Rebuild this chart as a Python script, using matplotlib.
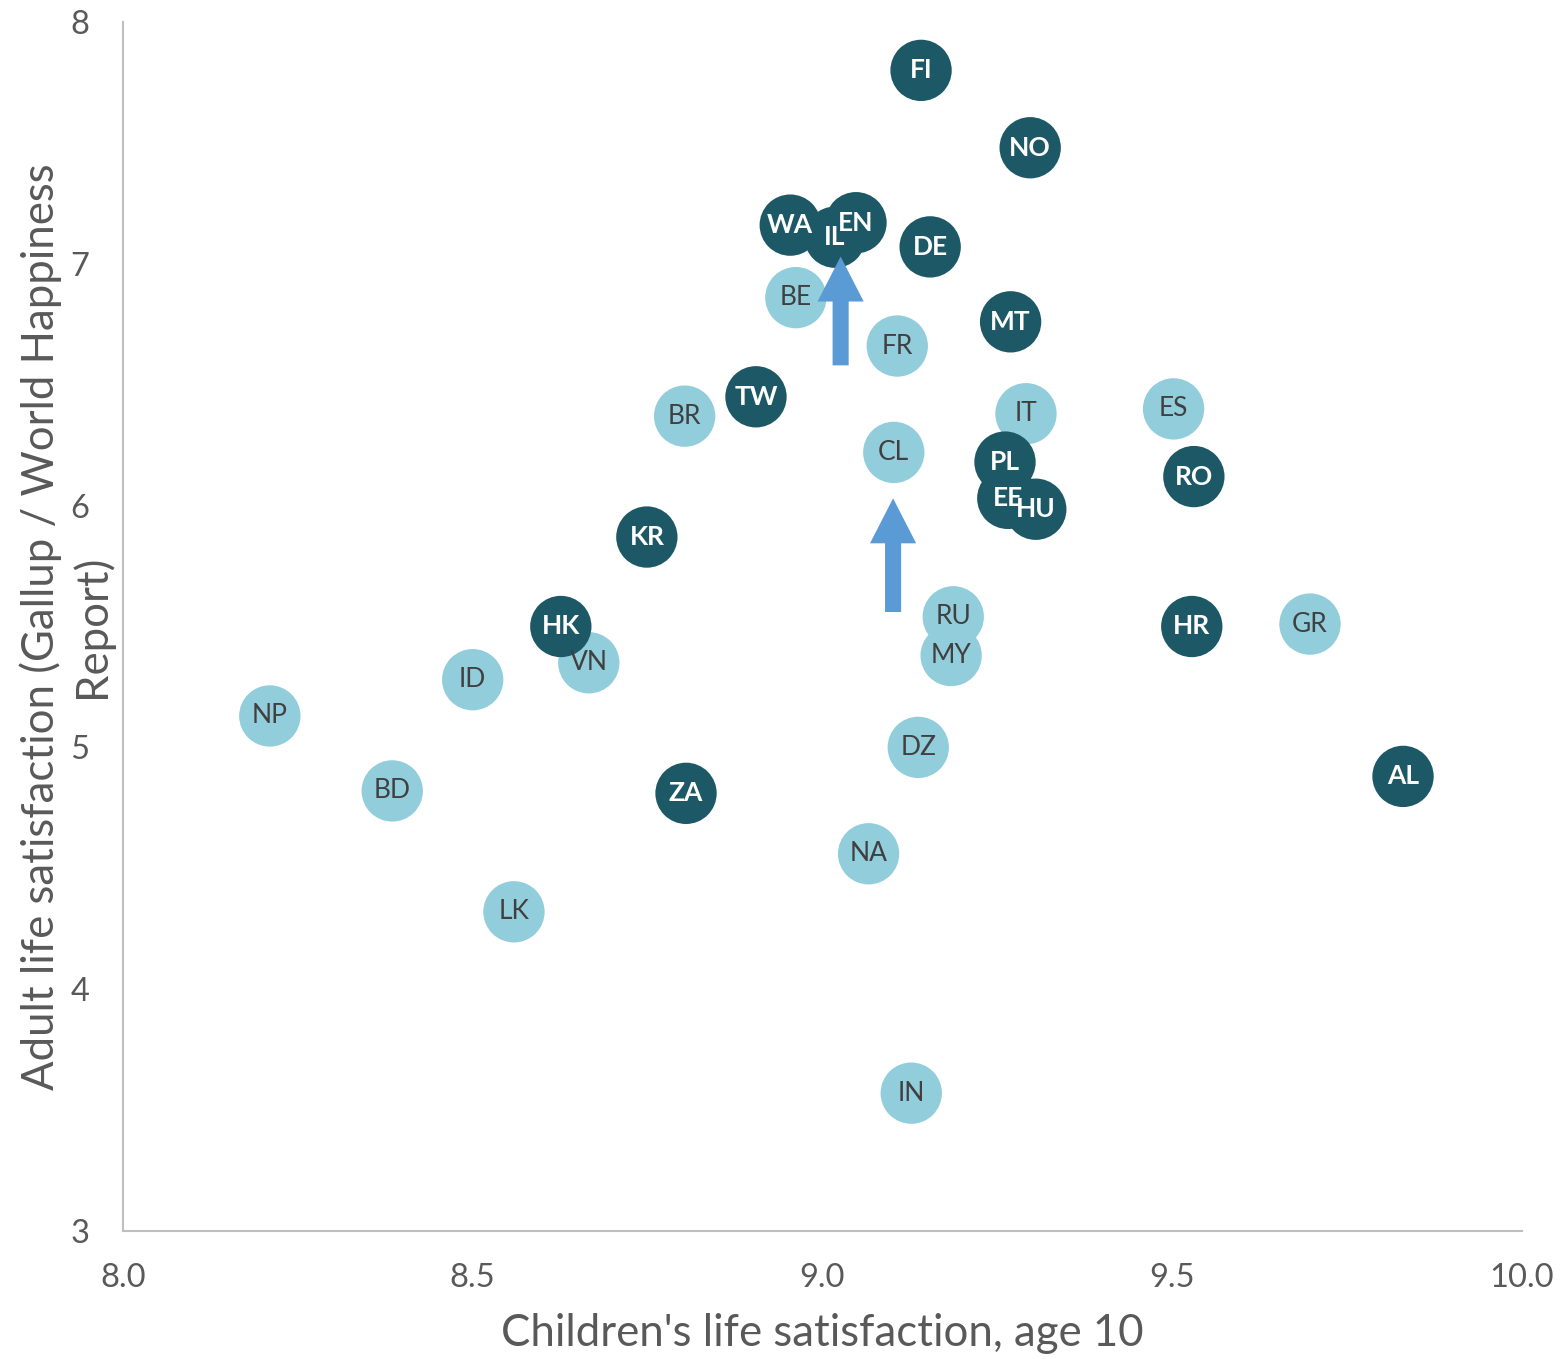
import matplotlib.pyplot as plt

# country codes, children's life satisfaction (age 10), adult life satisfaction
dark_codes = ['FI', 'NO', 'WA', 'IL', 'EN', 'DE', 'MT', 'TW', 'PL', 'RO',
              'EE', 'HU', 'KR', 'HK', 'HR', 'AL', 'ZA']
dark_x = [9.141, 9.297, 8.954, 9.018, 9.048, 9.154, 9.269, 8.905, 9.261, 9.531,
          9.265, 9.305, 8.749, 8.626, 9.528, 9.830, 8.805]
dark_y = [7.80, 7.48, 7.16, 7.11, 7.17, 7.07, 6.76, 6.45, 6.18, 6.12,
          6.03, 5.985, 5.87, 5.50, 5.50, 4.88, 4.81]

light_codes = ['BE', 'FR', 'BR', 'IT', 'ES', 'CL', 'RU', 'GR', 'VN', 'MY',
               'ID', 'NP', 'DZ', 'BD', 'NA', 'LK', 'IN']
light_x = [8.962, 9.107, 8.803, 9.291, 9.502, 9.102, 9.187, 9.697, 8.666, 9.184,
           8.500, 8.210, 9.137, 8.385, 9.066, 8.559, 9.127]
light_y = [6.86, 6.66, 6.37, 6.38, 6.40, 6.22, 5.54, 5.51, 5.35, 5.38,
           5.28, 5.13, 5.00, 4.82, 4.56, 4.32, 3.57]

# upward arrows: x, start y, end y
arrow_x = [9.026, 9.101]
arrow_y0 = [6.58, 5.56]
arrow_y1 = [7.03, 6.03]

dark_col = '#1d5866'
light_col = '#92cddc'
arrow_col = '#5b9bd5'
grey = '#595959'

plt.rcParams['font.family'] = ['Lato', 'DejaVu Sans']

fig = plt.figure(figsize=(15.6, 13.59), dpi=100)
ax = fig.add_axes([0.0788, 0.0942, 0.8968, 0.8896])

ax.scatter(light_x, light_y, s=1950, color=light_col, edgecolors='none', zorder=2)
ax.scatter(dark_x, dark_y, s=1950, color=dark_col, edgecolors='none', zorder=3)

for c, x, y in zip(light_codes, light_x, light_y):
    ax.text(x, y, c, ha='center', va='center', fontsize=19, color='#404040', zorder=5)
for c, x, y in zip(dark_codes, dark_x, dark_y):
    ax.text(x, y, c, ha='center', va='center', fontsize=19, color='white',
            fontweight='bold', zorder=5)

for x, y0, y1 in zip(arrow_x, arrow_y0, arrow_y1):
    ax.arrow(x, y0, 0, y1 - y0, width=0.023, head_width=0.066, head_length=0.186,
             length_includes_head=True, color=arrow_col, lw=0, zorder=4)

ax.set_xlim(8.0, 10.0)
ax.set_ylim(3, 8)
ax.set_xticks([8.0, 8.5, 9.0, 9.5, 10.0])
ax.set_xticklabels(['8.0', '8.5', '9.0', '9.5', '10.0'])
ax.set_yticks([3, 4, 5, 6, 7, 8])

for side in ['top', 'right']:
    ax.spines[side].set_visible(False)
for side in ['left', 'bottom']:
    ax.spines[side].set_color('#bfbfbf')
    ax.spines[side].set_linewidth(1.5)

ax.tick_params(length=0, labelsize=23.5, labelcolor=grey)
ax.tick_params(axis='x', pad=23)
ax.tick_params(axis='y', pad=24)

ax.set_xlabel("Children's life satisfaction, age 10", fontsize=31.5, color=grey, va='center')
ax.xaxis.set_label_coords(0.5, -0.0844)
ax.set_ylabel('Adult life satisfaction (Gallup / World Happiness\nReport)',
              fontsize=31.5, color=grey, va='center', linespacing=1.25)
ax.yaxis.set_label_coords(-0.0407, 0.5)

fig.savefig('out.png', dpi=100)
